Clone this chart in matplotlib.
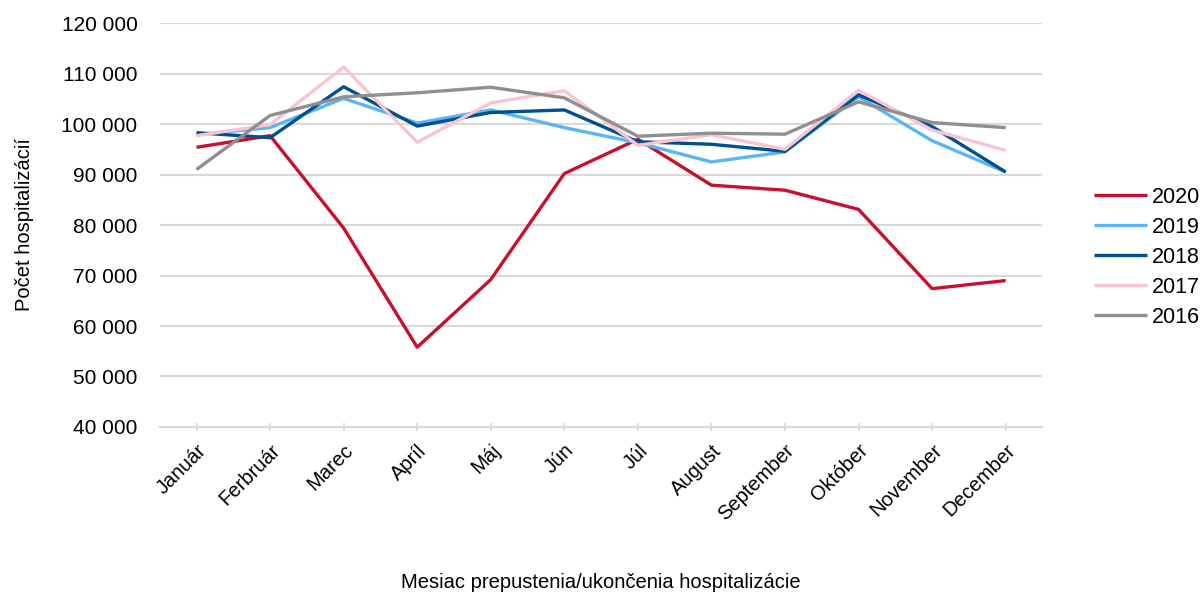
import matplotlib.pyplot as plt
from matplotlib.ticker import FuncFormatter

plt.rcParams['font.family'] = ['Liberation Sans', 'DejaVu Sans']

months = ['Január', 'Ferbruár', 'Marec', 'Apríl', 'Máj', 'Jún', 'Júl',
          'August', 'September', 'Október', 'November', 'December']

y2020 = [95400, 97700, 79400, 55800, 69200, 90200, 97000, 87900, 86900, 83100, 67400, 69000]
y2019 = [97900, 99300, 105100, 100200, 102800, 99300, 96300, 92500, 94500, 105400, 96700, 90500]
y2018 = [98300, 97300, 107400, 99600, 102300, 102800, 96500, 96000, 94600, 105800, 99500, 90500]
y2017 = [97700, 99900, 111300, 96400, 104200, 106600, 95800, 97900, 95000, 106700, 98800, 94800]
y2016 = [91000, 101700, 105400, 106200, 107300, 105200, 97600, 98200, 98000, 104400, 100300, 99300]

series = [('2020', y2020, '#C8102E'),
          ('2019', y2019, '#5AB4F8'),
          ('2018', y2018, '#00508F'),
          ('2017', y2017, '#F9C4CF'),
          ('2016', y2016, '#8F8F8F')]

fig = plt.figure(figsize=(12.01, 5.93), dpi=100)
ax = fig.add_axes([0.133, 0.280, 0.735, 0.681])

x = range(len(months))
for name, vals, col in series:
    ax.plot(x, vals, color=col, lw=2.4, label=name, solid_capstyle='butt')

ax.set_ylim(40000, 120000)
ax.set_xlim(-0.5, len(months) - 0.5)
ax.set_yticks(range(40000, 120001, 10000))
ax.yaxis.set_major_formatter(FuncFormatter(lambda v, p: f"{int(v):,}".replace(',', ' ')))
ax.set_xticks(list(x))
ax.set_xticklabels(months, rotation=45, ha='right', rotation_mode='anchor')

ax.grid(axis='y', color='#D9D9D9', lw=1.5)
ax.set_axisbelow(True)
for s in ['top', 'right', 'left']:
    ax.spines[s].set_visible(False)
ax.spines['bottom'].set_color('#D9D9D9')
ax.spines['bottom'].set_linewidth(1.5)
ax.tick_params(axis='y', length=0, labelsize=15, pad=16)
ax.tick_params(axis='x', direction='inout', length=6, width=1.2, color='#D9D9D9',
               labelsize=14.5, pad=7)

ax.set_ylabel('Počet hospitalizácií', fontsize=14.5)
ax.yaxis.set_label_coords(-0.143, 0.5)
fig.text(0.5, 0.008, 'Mesiac prepustenia/ukončenia hospitalizácie', ha='center', fontsize=14.5)

ax.legend(loc='center left', bbox_to_anchor=(1.058, 0.42), frameon=False, fontsize=15.5,
          handlelength=2.5, handletextpad=0.2, labelspacing=0.42,
          borderaxespad=0, borderpad=0)

fig.savefig('out.png', dpi=100)
